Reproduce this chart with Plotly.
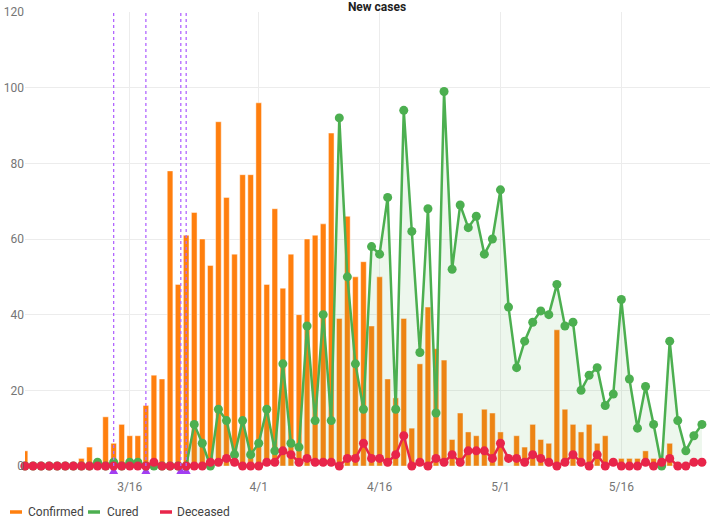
import pandas as pd
import plotly.graph_objects as go

# ---------------- data ----------------
start_date = "2020-03-03"
confirmed = [4, 0, 0, 0, 0, 0, 0, 2, 5, 0, 13, 6, 11, 8, 8, 16, 24, 23, 78, 48,
             61, 67, 60, 53, 91, 71, 56, 77, 77, 96, 48, 68, 47, 56, 40, 60, 61, 64, 88, 39,
             66, 50, 54, 37, 50, 23, 18, 39, 10, 27, 42, 31, 28, 7, 14, 9, 8, 15, 14, 9,
             0, 8, 5, 11, 7, 6, 36, 15, 11, 9, 11, 6, 8, 0, 2, 2, 2, 4, 2, 2,
             6, 0, 0, 0, 0]
cured = [0, 0, 0, 0, 0, 0, 0, 0, 0, 1, 0, 1, 0, 1, 1, 0, 0, 0, 0, 0,
         0, 11, 6, 0, 15, 12, 3, 12, 3, 6, 15, 4, 27, 6, 5, 37, 12, 40, 12, 92,
         50, 27, 15, 58, 56, 71, 15, 94, 62, 30, 68, 14, 99, 52, 69, 63, 66, 56, 60, 73,
         42, 26, 33, 38, 41, 40, 48, 37, 38, 20, 24, 26, 16, 19, 44, 23, 10, 21, 11, 0,
         33, 12, 4, 8, 11]
deceased = [0, 0, 0, 0, 0, 0, 0, 0, 0, 0, 0, 0, 0, 0, 0, 0, 1, 0, 0, 0,
            0, 0, 0, 1, 1, 2, 1, 0, 0, 0, 1, 1, 4, 3, 1, 2, 1, 1, 1, 0,
            2, 2, 6, 2, 2, 1, 3, 8, 0, 1, 0, 2, 1, 3, 1, 4, 4, 4, 2, 6,
            2, 2, 1, 3, 2, 1, 0, 1, 3, 1, 0, 3, 0, 1, 0, 0, 0, 1, 0, 1,
            2, 0, 0, 1, 1]
event_dates = ["2020-03-14", "2020-03-18", "2020-03-22 08:00", "2020-03-23"]
tick_dates = ["2020-03-16", "2020-04-01", "2020-04-16", "2020-05-01", "2020-05-16"]
tick_labels = ["3/16", "4/1", "4/16", "5/1", "5/16"]
y_ticks = [0, 20, 40, 60, 80, 100, 120]
series_names = ["Confirmed", "Cured", "Deceased"]
series_colors = ["#ff7f0e", "#4caf50", "#e8254a"]
event_color = "#a23ef2"

dates = pd.date_range(start_date, periods=len(confirmed), freq="D")

# ---------------- layout constants ----------------
W, H = 714, 518
ML, MR, MT, MB = 25, 4, 12, 52
PW, PH = W - ML - MR, H - MT - MB


def px_x(px):
    return (px - ML) / PW


def px_y(py):
    return (H - MB - py) / PH


fig = go.Figure()

fig.add_trace(go.Bar(
    x=dates, y=confirmed, name=series_names[0],
    marker=dict(color=series_colors[0], line=dict(color="rgba(255,255,255,0.45)", width=1)),
    showlegend=False,
))
fig.add_trace(go.Scatter(
    x=dates, y=cured, name=series_names[1], mode="lines+markers",
    line=dict(color=series_colors[1], width=2.5),
    marker=dict(color=series_colors[1], size=9),
    fill="tozeroy", fillcolor="rgba(76,175,80,0.10)",
    cliponaxis=False, showlegend=False,
))
fig.add_trace(go.Scatter(
    x=dates, y=deceased, name=series_names[2], mode="lines+markers",
    line=dict(color=series_colors[2], width=2.5),
    marker=dict(color=series_colors[2], size=9),
    cliponaxis=False, showlegend=False,
))

# event markers: dotted vertical line + small triangle at the axis baseline
for d in event_dates:
    fig.add_shape(type="line", xref="x", yref="paper", x0=d, x1=d, y0=0, y1=1,
                  line=dict(color="#b266ff", width=1.3, dash="dot"), layer="above")
    fig.add_shape(type="path", xref="x", yref="paper", xanchor=d, yanchor=0,
                  xsizemode="pixel", ysizemode="pixel",
                  path="M-4.5,-8 L4.5,-8 L0,0 Z",
                  fillcolor=event_color, line=dict(width=0), layer="below")

# custom legend (short line icons + labels)
legend_icon_px = [(10, 22), (88, 100), (160, 172)]
legend_text_px = [26, 105, 175]
ly = px_y(512)
for name, color, (a, b), tx in zip(series_names, series_colors, legend_icon_px, legend_text_px):
    fig.add_shape(type="line", xref="paper", yref="paper", x0=px_x(a), x1=px_x(b), y0=ly, y1=ly,
                  line=dict(color=color, width=3.5))
    fig.add_annotation(xref="paper", yref="paper", x=px_x(tx), y=ly, text=name,
                       showarrow=False, xanchor="left", yanchor="middle",
                       font=dict(size=12, color="#424242", family="Roboto"))

fig.update_layout(
    width=W, height=H,
    margin=dict(l=ML, r=MR, t=MT, b=MB),
    paper_bgcolor="white", plot_bgcolor="white",
    font=dict(family="Roboto", size=12, color="#757575"),
    title=dict(text="<b>New cases</b>", x=377 / W, xref="container", xanchor="center",
               y=1 - 6.5 / H, yref="container", yanchor="middle", pad=dict(t=0, b=0),
               font=dict(size=12, color="#212121", family="Roboto")),
    bargap=0.3,
    showlegend=False,
    xaxis=dict(type="date", range=[dates[0], dates[-1] + pd.Timedelta(days=1)],
               tickvals=tick_dates, ticktext=tick_labels,
               showgrid=True, gridcolor="#ececec", gridwidth=1,
               zeroline=False, showline=False,
               ticks="outside", ticklen=10, tickcolor="rgba(0,0,0,0)",
               tickfont=dict(size=12, color="#757575")),
    yaxis=dict(range=[0, 120], tickvals=y_ticks,
               showgrid=True, gridcolor="#ececec", gridwidth=1,
               zeroline=False, showline=False, ticks="",
               tickfont=dict(size=12, color="#757575")),
)

fig.write_html(
    "out.html",
    config={"displayModeBar": False},
    post_script="document.body.style.margin='0';document.body.style.overflow='hidden';",
)
